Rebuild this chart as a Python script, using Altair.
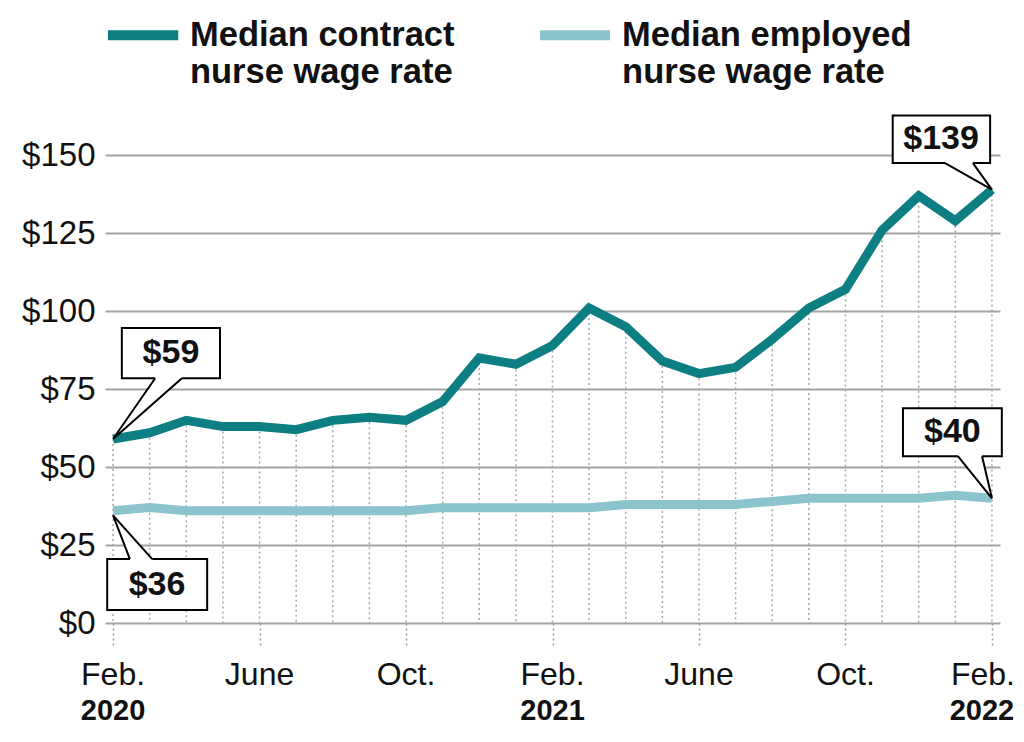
import altair as alt
import pandas as pd

# ---- data ----
month_idx = list(range(25))  # Feb 2020 .. Feb 2022
contract = [59, 61, 65, 63, 63, 62, 65, 66, 65, 71, 85, 83, 89, 101, 95, 84, 80, 82, 91, 101, 107, 126, 137, 129, 139]
employed = [36, 37, 36, 36, 36, 36, 36, 36, 36, 37, 37, 37, 37, 37, 38, 38, 38, 38, 39, 40, 40, 40, 40, 41, 40]
tick_pos = [0, 4, 8, 12, 16, 20, 24]
tick_labels = ["Feb.", "June", "Oct.", "Feb.", "June", "Oct.", "Feb."]
year_pos = [0, 12, 24]
year_labels = ["2020", "2021", "2022"]
y_ticks = [0, 25, 50, 75, 100, 125, 150]

series_names = ["Median contract nurse wage rate", "Median employed nurse wage rate"]
legend_line1 = ["Median contract", "Median employed"]
legend_line2 = ["nurse wage rate", "nurse wage rate"]
colors = ["#0d7f83", "#8cc4cd"]

# callouts (annotation geometry in data units)
call_text = ["$59", "$36", "$139", "$40"]
call_cx = [1.58, 1.20, 22.61, 22.92]
call_cy = [86.6, 12.3, 155.2, 61.3]
box_x1 = [0.24, -0.16, 21.29, 21.57]
box_x2 = [2.92, 2.57, 23.95, 24.27]
box_y1 = [78.5, 4.2, 147.5, 53.5]
box_y2 = [94.6, 20.5, 162.8, 68.9]
ptr_b1 = [1.15, 0.46, 22.72, 23.07]
ptr_b2 = [1.88, 1.07, 23.48, 23.73]
ptr_edge = [78.5, 20.5, 147.5, 53.5]
ptr_ax = [0, 0, 24, 24]
ptr_ay = [59, 34.5, 139, 40]

# legend placement (data units)
leg_sw_x1 = [-0.14, 11.66]
leg_sw_x2 = [1.78, 13.57]
leg_sw_y = [188.5, 188.5]
leg_tx = [2.10, 13.90]
leg_ty1 = [185.0, 185.0]
leg_ty2 = [173.1, 173.1]

W, H = 895, 608
XDOM = [-0.22, 24.22]
YDOM = [0, 195]
FONT = "Liberation Sans, Arial, Helvetica, sans-serif"

xs = alt.Scale(domain=XDOM, nice=False, zero=False)
ys = alt.Scale(domain=YDOM, nice=False, zero=True)

long = pd.DataFrame({
    "m": month_idx * 2,
    "v": contract + employed,
    "s": [series_names[0]] * 25 + [series_names[1]] * 25,
})
drop = pd.DataFrame({"m": month_idx, "v": contract})

base_axis_x = alt.Axis(
    values=tick_pos, labels=False, grid=False, domain=False,
    ticks=True, tickSize=22, tickDash=[2, 3], tickColor="#9a9a9a", tickWidth=1.5,
    title=None,
)
base_axis_y = alt.Axis(
    values=y_ticks, labelExpr="'$' + datum.value", grid=True, gridColor="#a3a3a3",
    gridWidth=2, domain=False, ticks=False, labelPadding=10, labelFontSize=33,
    labelFont=FONT, labelColor="#111", title=None,
)

drops = alt.Chart(drop).mark_rule(color="#a8a8a8", strokeWidth=1.5, strokeDash=[2, 3]).encode(
    x=alt.X("m:Q", scale=xs, axis=base_axis_x),
    y=alt.Y("v:Q", scale=ys, axis=base_axis_y),
    y2=alt.datum(0),
)

lines = alt.Chart(long).mark_line(strokeWidth=9, strokeJoin="miter", strokeCap="butt").encode(
    x=alt.X("m:Q", scale=xs),
    y=alt.Y("v:Q", scale=ys),
    color=alt.Color("s:N", scale=alt.Scale(domain=series_names, range=colors), legend=None),
    order=alt.Order("m:Q"),
)

# legend
leg = pd.DataFrame({
    "x1": leg_sw_x1, "x2": leg_sw_x2, "y": leg_sw_y, "s": series_names,
    "tx": leg_tx, "ty1": leg_ty1, "ty2": leg_ty2, "l1": legend_line1, "l2": legend_line2,
})
leg_sw = alt.Chart(leg).mark_rule(strokeWidth=10, strokeCap="butt").encode(
    x=alt.X("x1:Q", scale=xs), x2="x2:Q", y=alt.Y("y:Q", scale=ys),
    color=alt.Color("s:N", scale=alt.Scale(domain=series_names, range=colors), legend=None),
)
leg_t1 = alt.Chart(leg).mark_text(align="left", baseline="alphabetic", fontSize=34.5,
                                  fontWeight="bold", font=FONT, color="#111").encode(
    x=alt.X("tx:Q", scale=xs), y=alt.Y("ty1:Q", scale=ys), text="l1:N")
leg_t2 = alt.Chart(leg).mark_text(align="left", baseline="alphabetic", fontSize=34.5,
                                  fontWeight="bold", font=FONT, color="#111").encode(
    x=alt.X("tx:Q", scale=xs), y=alt.Y("ty2:Q", scale=ys), text="l2:N")

# month and year labels along the x axis
mo = pd.DataFrame({"m": tick_pos, "t": tick_labels})
mo_main = alt.Chart(mo).transform_filter("datum.m < 24").mark_text(
    baseline="alphabetic", fontSize=32, font=FONT, color="#111").encode(
    x=alt.X("m:Q", scale=xs), y=alt.value(H + 62), text="t:N")
mo_last = alt.Chart(mo).transform_filter("datum.m == 24").mark_text(
    baseline="alphabetic", fontSize=32, font=FONT, color="#111", dx=-9).encode(
    x=alt.X("m:Q", scale=xs), y=alt.value(H + 62), text="t:N")

yr = pd.DataFrame({"m": year_pos, "t": year_labels})
years_main = alt.Chart(yr).transform_filter("datum.m < 24").mark_text(
    baseline="alphabetic", fontSize=29, fontWeight="bold", font=FONT, color="#111").encode(
    x=alt.X("m:Q", scale=xs), y=alt.value(H + 97), text="t:N")
years_last = alt.Chart(yr).transform_filter("datum.m == 24").mark_text(
    baseline="alphabetic", fontSize=29, fontWeight="bold", font=FONT, color="#111", dx=-10).encode(
    x=alt.X("m:Q", scale=xs), y=alt.value(H + 97), text="t:N")

# callouts
boxes_df = pd.DataFrame({"x1": box_x1, "x2": box_x2, "y1": box_y1, "y2": box_y2,
                         "cx": call_cx, "cy": call_cy, "t": call_text,
                         "b1": ptr_b1, "b2": ptr_b2, "e": ptr_edge})
boxes = alt.Chart(boxes_df).mark_rect(fill="white", stroke="black", strokeWidth=2).encode(
    x=alt.X("x1:Q", scale=xs), x2="x2:Q", y=alt.Y("y1:Q", scale=ys), y2="y2:Q")
gaps = alt.Chart(boxes_df).mark_rule(color="white", strokeWidth=3.5, strokeCap="butt").encode(
    x=alt.X("b1:Q", scale=xs), x2="b2:Q", y=alt.Y("e:Q", scale=ys))

ptr_rows = []
for i in range(len(call_text)):
    ptr_rows.append({"id": i, "o": 0, "x": ptr_b1[i], "y": ptr_edge[i]})
    ptr_rows.append({"id": i, "o": 1, "x": ptr_ax[i], "y": ptr_ay[i]})
    ptr_rows.append({"id": i, "o": 2, "x": ptr_b2[i], "y": ptr_edge[i]})
ptr_df = pd.DataFrame(ptr_rows)
pointers = alt.Chart(ptr_df).mark_line(stroke="black", fill="white", strokeWidth=2,
                                       strokeJoin="miter").encode(
    x=alt.X("x:Q", scale=xs), y=alt.Y("y:Q", scale=ys),
    detail="id:N", order=alt.Order("o:Q"))
ctext = alt.Chart(boxes_df).mark_text(fontSize=34, fontWeight="bold", font=FONT,
                                      color="#111", baseline="middle").encode(
    x=alt.X("cx:Q", scale=xs), y=alt.Y("cy:Q", scale=ys), text="t:N")

chart = alt.layer(
    drops, lines, leg_sw, leg_t1, leg_t2, mo_main, mo_last, years_main, years_last,
    boxes, gaps, pointers, ctext
).properties(
    width=W, height=H,
    background="white",
    autosize=alt.AutoSizeParams(type="none"),
    padding={"left": 105, "top": 15, "right": 24, "bottom": 119},
).configure_view(stroke=None)

chart.save("out.html", embed_options={"renderer": "svg", "actions": False})
